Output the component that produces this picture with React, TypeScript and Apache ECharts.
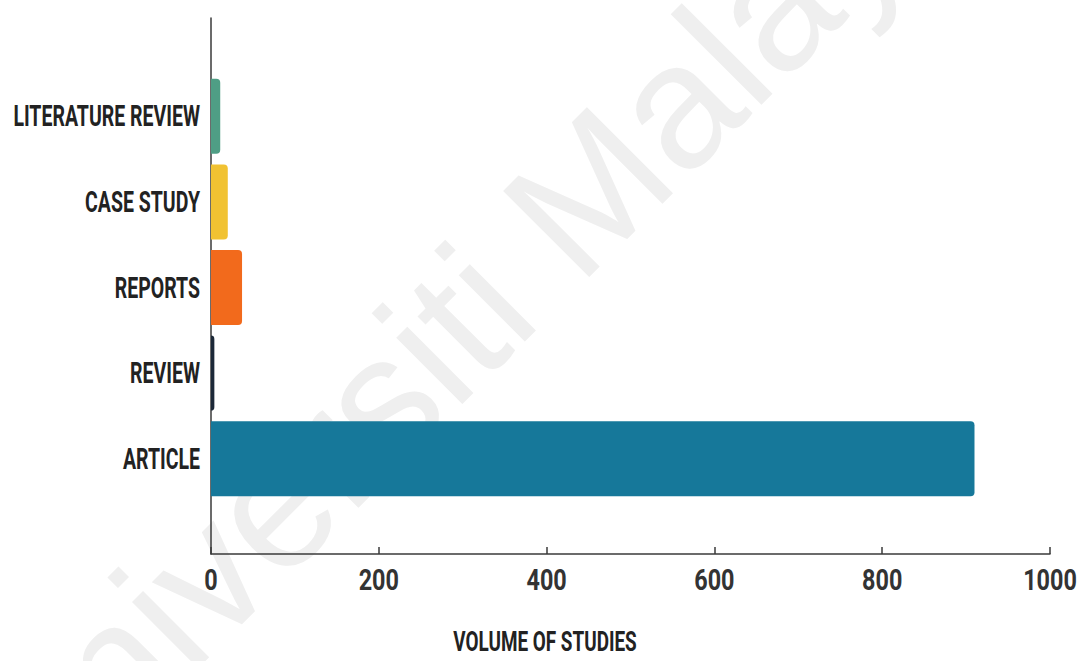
import React, { useEffect, useRef } from "react";
import * as echarts from "echarts";

const categories = ["LITERATURE REVIEW", "CASE STUDY", "REPORTS", "REVIEW", "ARTICLE"];
const values = [11, 20, 37, 4, 910];
const colors = ["#4f9e85", "#f1c232", "#f26a1c", "#1c2838", "#16789a"];
const xTicks = [0, 200, 400, 600, 800, 1000];
const axisTitle = "VOLUME OF STUDIES";
const watermark = "Universiti Malaya";

const FONT = "Roboto, 'Liberation Sans', sans-serif";
const TEXT_SIZE = 30;
const CAPS_SCALE = 0.65;
const DIGIT_SCALE = 0.78;

export default function App() {
  const ref = useRef<HTMLDivElement>(null);
  useEffect(() => {
    if (!ref.current) return;
    document.body.style.margin = "0";
    const chart = echarts.init(ref.current, null, { renderer: "svg" });
    const xMin = xTicks[0];
    const xMax = xTicks[xTicks.length - 1];
    const step = xTicks[1] - xTicks[0];
    chart.setOption({
      animation: false,
      backgroundColor: "#ffffff",
      grid: [
        { left: 211, top: 73.5, width: 839, height: 428, outerBoundsMode: "none", containLabel: false },
        { left: 211, top: 18, width: 839, height: 536, outerBoundsMode: "none", containLabel: false },
      ],
      xAxis: [
        { gridIndex: 0, type: "value", min: xMin, max: xMax, show: false },
        {
          gridIndex: 1,
          type: "value",
          min: xMin,
          max: xMax,
          interval: step,
          axisLine: { show: true, lineStyle: { color: "#3a3a3a", width: 1.5 } },
          axisTick: { show: true, inside: true, length: 7, lineStyle: { color: "#3a3a3a", width: 1.5 } },
          splitLine: { show: false },
          axisLabel: { show: false },
        },
      ],
      yAxis: [
        {
          gridIndex: 0,
          type: "category",
          inverse: true,
          data: categories,
          axisLine: { show: false },
          axisTick: { show: false },
          axisLabel: { show: false },
        },
        {
          gridIndex: 1,
          type: "value",
          min: 0,
          max: 1,
          axisLine: { show: true, lineStyle: { color: "#3a3a3a", width: 1.5 } },
          axisTick: { show: false },
          axisLabel: { show: false },
          splitLine: { show: false },
        },
      ],
      series: [
        {
          type: "bar",
          xAxisIndex: 0,
          yAxisIndex: 0,
          barWidth: 75,
          data: values.map((v, i) => ({
            value: v,
            itemStyle: { color: colors[i], borderRadius: [0, 4, 4, 0] },
          })),
        },
      ],
    });

    // labels drawn as condensed text, positioned via the chart's own axes
    const x0 = chart.convertToPixel({ xAxisIndex: 0 }, 0) as number;
    const axisY = chart.convertToPixel({ yAxisIndex: 1 }, 0) as number;
    const catLabels = categories.map((c) => {
      const y = chart.convertToPixel({ yAxisIndex: 0 }, c) as number;
      return {
        type: "text",
        x: x0 - 11,
        y,
        scaleX: CAPS_SCALE,
        style: {
          text: c,
          fill: "#222",
          font: `bold ${TEXT_SIZE}px ${FONT}`,
          align: "right",
          verticalAlign: "middle",
        },
      };
    });
    const tickLabels = xTicks.map((t) => {
      const x = chart.convertToPixel({ xAxisIndex: 1 }, t) as number;
      return {
        type: "text",
        x,
        y: axisY + 26,
        scaleX: DIGIT_SCALE,
        style: {
          text: String(t),
          fill: "#333",
          font: `bold ${TEXT_SIZE}px ${FONT}`,
          align: "center",
          verticalAlign: "middle",
        },
      };
    });

    chart.setOption({
      graphic: [
        {
          type: "text",
          x: 463,
          y: 317,
          rotation: Math.PI / 4,
          z: -10,
          silent: true,
          style: {
            text: watermark,
            fill: "#efefef",
            font: "177px 'Liberation Sans', Arial, sans-serif",
            align: "center",
            verticalAlign: "middle",
          },
        },
        ...catLabels,
        ...tickLabels,
        {
          type: "text",
          x: 545,
          y: 642,
          scaleX: 0.7,
          style: {
            text: axisTitle,
            fill: "#222",
            font: `bold 27px ${FONT}`,
            align: "center",
            verticalAlign: "middle",
          },
        },
      ],
    });
    return () => chart.dispose();
  }, []);
  return <div ref={ref} style={{ width: 1088, height: 661 }} />;
}
